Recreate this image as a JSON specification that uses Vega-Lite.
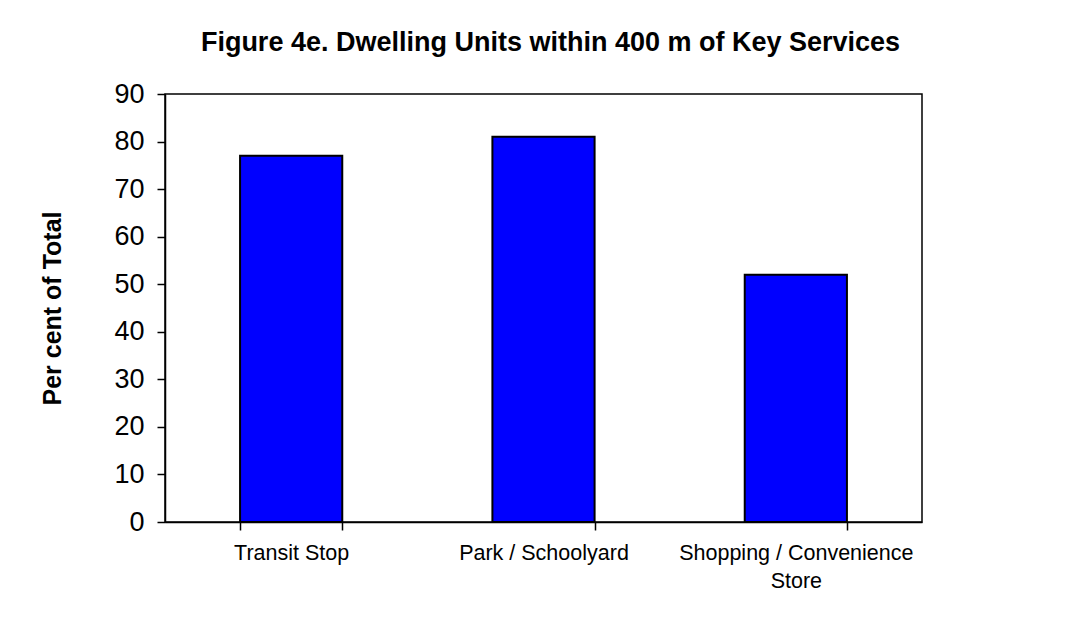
{
  "$schema": "https://vega.github.io/schema/vega-lite/v6.json",
  "width": 757,
  "height": 428,
  "autosize": {"type": "none"},
  "padding": {"left": 165, "top": 94, "right": 162, "bottom": 104},
  "background": "white",
  "title": {
    "text": "Figure 4e. Dwelling Units within 400 m of Key Services",
    "font": "Liberation Sans",
    "fontSize": 27,
    "fontWeight": "bold",
    "color": "black",
    "anchor": "middle",
    "baseline": "alphabetic",
    "offset": 2,
    "dx": 7
  },
  "data": {
    "values": [
      {"service": "Transit Stop", "percent": 77},
      {"service": "Park / Schoolyard", "percent": 81},
      {"service": "Shopping / Convenience Store", "percent": 52}
    ]
  },
  "mark": {"type": "bar", "fill": "#0000FF", "stroke": "black", "strokeWidth": 2},
  "encoding": {
    "x": {
      "field": "service",
      "type": "nominal",
      "sort": null,
      "scale": {"paddingInner": 0.595, "paddingOuter": 0.2975},
      "axis": {
        "title": null,
        "labelAngle": 0,
        "labelFont": "Liberation Sans",
        "labelFontSize": 21.5,
        "labelColor": "black",
        "labelPadding": 12,
        "labelLineHeight": 28,
        "labelLimit": 0,
        "tickBand": "extent",
        "tickSize": 8,
        "tickWidth": 1.5,
        "tickColor": "black",
        "domainColor": "black",
        "domainWidth": 1.5,
        "labelExpr": "datum.label == 'Shopping / Convenience Store' ? ['Shopping / Convenience', 'Store'] : datum.label"
      }
    },
    "y": {
      "field": "percent",
      "type": "quantitative",
      "scale": {"domain": [0, 90], "nice": false},
      "axis": {
        "title": "Per cent of Total",
        "titleFont": "Liberation Sans",
        "titleFontSize": 25,
        "titleFontWeight": "bold",
        "titleColor": "black",
        "titlePadding": 48,
        "values": [0, 10, 20, 30, 40, 50, 60, 70, 80, 90],
        "grid": false,
        "labelFont": "Liberation Sans",
        "labelFontSize": 27,
        "labelColor": "black",
        "labelPadding": 13,
        "tickSize": 8,
        "tickWidth": 1.5,
        "tickColor": "black",
        "domainColor": "black",
        "domainWidth": 1.5
      }
    }
  },
  "config": {
    "view": {"stroke": "black", "strokeWidth": 1.5}
  }
}
